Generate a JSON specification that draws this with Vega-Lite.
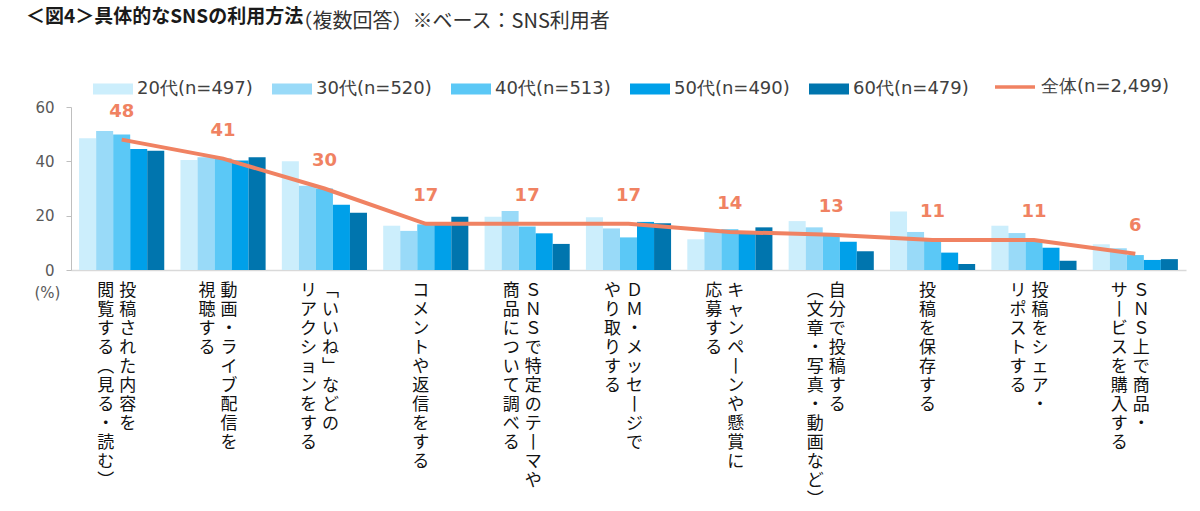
{
  "$schema": "https://vega.github.io/schema/vega-lite/v6.json",
  "autosize": {"type": "none"},
  "width": 1115,
  "height": 163,
  "padding": {"left": 71, "top": 107, "right": 14, "bottom": 241},
  "background": "#ffffff",
  "config": {"view": {"stroke": null}},
  "title": {
    "text": "＜図4＞具体的なSNSの利用方法",
    "anchor": "start",
    "frame": "group",
    "dx": -45,
    "dy": 50,
    "offset": 34,
    "font": "Noto Sans CJK JP",
    "fontSize": 19,
    "fontWeight": "bold",
    "color": "#1a1a1a"
  },
  "datasets": {
    "bars": [
      {"item": "投稿された内容を閲覧する（見る・読む）", "age": "20代(n=497)", "value": 48.5},
      {"item": "投稿された内容を閲覧する（見る・読む）", "age": "30代(n=520)", "value": 51.2},
      {"item": "投稿された内容を閲覧する（見る・読む）", "age": "40代(n=513)", "value": 49.9},
      {"item": "投稿された内容を閲覧する（見る・読む）", "age": "50代(n=490)", "value": 44.5},
      {"item": "投稿された内容を閲覧する（見る・読む）", "age": "60代(n=479)", "value": 43.9},
      {"item": "動画・ライブ配信を視聴する", "age": "20代(n=497)", "value": 40.5},
      {"item": "動画・ライブ配信を視聴する", "age": "30代(n=520)", "value": 41.5},
      {"item": "動画・ライブ配信を視聴する", "age": "40代(n=513)", "value": 41.0},
      {"item": "動画・ライブ配信を視聴する", "age": "50代(n=490)", "value": 40.3},
      {"item": "動画・ライブ配信を視聴する", "age": "60代(n=479)", "value": 41.5},
      {"item": "「いいね」などのリアクションをする", "age": "20代(n=497)", "value": 40.0},
      {"item": "「いいね」などのリアクションをする", "age": "30代(n=520)", "value": 31.0},
      {"item": "「いいね」などのリアクションをする", "age": "40代(n=513)", "value": 30.0},
      {"item": "「いいね」などのリアクションをする", "age": "50代(n=490)", "value": 24.0},
      {"item": "「いいね」などのリアクションをする", "age": "60代(n=479)", "value": 21.1},
      {"item": "コメントや返信をする", "age": "20代(n=497)", "value": 16.3},
      {"item": "コメントや返信をする", "age": "30代(n=520)", "value": 14.4},
      {"item": "コメントや返信をする", "age": "40代(n=513)", "value": 16.8},
      {"item": "コメントや返信をする", "age": "50代(n=490)", "value": 17.2},
      {"item": "コメントや返信をする", "age": "60代(n=479)", "value": 19.6},
      {"item": "SNSで特定のテーマや商品について調べる", "age": "20代(n=497)", "value": 19.6},
      {"item": "SNSで特定のテーマや商品について調べる", "age": "30代(n=520)", "value": 21.7},
      {"item": "SNSで特定のテーマや商品について調べる", "age": "40代(n=513)", "value": 16.0},
      {"item": "SNSで特定のテーマや商品について調べる", "age": "50代(n=490)", "value": 13.5},
      {"item": "SNSで特定のテーマや商品について調べる", "age": "60代(n=479)", "value": 9.6},
      {"item": "DM・メッセージでやり取りする", "age": "20代(n=497)", "value": 19.4},
      {"item": "DM・メッセージでやり取りする", "age": "30代(n=520)", "value": 15.3},
      {"item": "DM・メッセージでやり取りする", "age": "40代(n=513)", "value": 12.0},
      {"item": "DM・メッセージでやり取りする", "age": "50代(n=490)", "value": 17.7},
      {"item": "DM・メッセージでやり取りする", "age": "60代(n=479)", "value": 17.2},
      {"item": "キャンペーンや懸賞に応募する", "age": "20代(n=497)", "value": 11.3},
      {"item": "キャンペーンや懸賞に応募する", "age": "30代(n=520)", "value": 14.1},
      {"item": "キャンペーンや懸賞に応募する", "age": "40代(n=513)", "value": 15.0},
      {"item": "キャンペーンや懸賞に応募する", "age": "50代(n=490)", "value": 13.5},
      {"item": "キャンペーンや懸賞に応募する", "age": "60代(n=479)", "value": 15.7},
      {"item": "自分で投稿する（文章・写真・動画など）", "age": "20代(n=497)", "value": 18.0},
      {"item": "自分で投稿する（文章・写真・動画など）", "age": "30代(n=520)", "value": 15.7},
      {"item": "自分で投稿する（文章・写真・動画など）", "age": "40代(n=513)", "value": 13.5},
      {"item": "自分で投稿する（文章・写真・動画など）", "age": "50代(n=490)", "value": 10.4},
      {"item": "自分で投稿する（文章・写真・動画など）", "age": "60代(n=479)", "value": 6.9},
      {"item": "投稿を保存する", "age": "20代(n=497)", "value": 21.5},
      {"item": "投稿を保存する", "age": "30代(n=520)", "value": 14.0},
      {"item": "投稿を保存する", "age": "40代(n=513)", "value": 11.3},
      {"item": "投稿を保存する", "age": "50代(n=490)", "value": 6.4},
      {"item": "投稿を保存する", "age": "60代(n=479)", "value": 2.2},
      {"item": "投稿をシェア・リポストする", "age": "20代(n=497)", "value": 16.3},
      {"item": "投稿をシェア・リポストする", "age": "30代(n=520)", "value": 13.6},
      {"item": "投稿をシェア・リポストする", "age": "40代(n=513)", "value": 10.5},
      {"item": "投稿をシェア・リポストする", "age": "50代(n=490)", "value": 8.2},
      {"item": "投稿をシェア・リポストする", "age": "60代(n=479)", "value": 3.4},
      {"item": "SNS上で商品・サービスを購入する", "age": "20代(n=497)", "value": 9.5},
      {"item": "SNS上で商品・サービスを購入する", "age": "30代(n=520)", "value": 8.0},
      {"item": "SNS上で商品・サービスを購入する", "age": "40代(n=513)", "value": 5.5},
      {"item": "SNS上で商品・サービスを購入する", "age": "50代(n=490)", "value": 3.7},
      {"item": "SNS上で商品・サービスを購入する", "age": "60代(n=479)", "value": 4.0}
    ],
    "total": [
      {"item": "投稿された内容を閲覧する（見る・読む）", "value": 48, "r": "投稿された内容を", "l": "閲覧する︵見る・読む︶", "s": ""},
      {"item": "動画・ライブ配信を視聴する", "value": 41, "r": "動画・ライブ配信を", "l": "視聴する", "s": ""},
      {"item": "「いいね」などのリアクションをする", "value": 30, "r": "﹁いいね﹂などの", "l": "リアクションをする", "s": ""},
      {"item": "コメントや返信をする", "value": 17, "r": "", "l": "", "s": "コメントや返信をする"},
      {"item": "SNSで特定のテーマや商品について調べる", "value": 17, "r": "ＳＮＳで特定のテ丨マや", "l": "商品について調べる", "s": ""},
      {"item": "DM・メッセージでやり取りする", "value": 17, "r": "ＤＭ・メッセ丨ジで", "l": "やり取りする", "s": ""},
      {"item": "キャンペーンや懸賞に応募する", "value": 14, "r": "キャンペ丨ンや懸賞に", "l": "応募する", "s": ""},
      {"item": "自分で投稿する（文章・写真・動画など）", "value": 13, "r": "自分で投稿する", "l": "︵文章・写真・動画など︶", "s": ""},
      {"item": "投稿を保存する", "value": 11, "r": "", "l": "", "s": "投稿を保存する"},
      {"item": "投稿をシェア・リポストする", "value": 11, "r": "投稿をシェア・", "l": "リポストする", "s": ""},
      {"item": "SNS上で商品・サービスを購入する", "value": 6, "r": "ＳＮＳ上で商品・", "l": "サ丨ビスを購入する", "s": ""}
    ]
  },
  "encoding": {
    "x": {
      "field": "item",
      "type": "nominal",
      "sort": null,
      "title": "（複数回答）※ベース：SNS利用者",
      "scale": {"paddingInner": 0.16, "paddingOuter": 0.08},
      "axis": {
        "labels": false,
        "ticks": false,
        "domainColor": "#d9d9d9",
        "domainWidth": 1.5,
        "titleX": 221,
        "titleY": -249,
        "titleAlign": "left",
        "titleBaseline": "middle",
        "titleFont": "Noto Sans CJK JP",
        "titleFontSize": 20,
        "titleFontWeight": "normal",
        "titleColor": "#333333"
      }
    }
  },
  "layer": [
    {
      "data": {"name": "bars"},
      "mark": {"type": "bar"},
      "encoding": {
        "xOffset": {"field": "age", "type": "nominal", "sort": ["20代(n=497)", "30代(n=520)", "40代(n=513)", "50代(n=490)", "60代(n=479)"], "scale": {"paddingInner": 0}},
        "y": {
          "field": "value",
          "type": "quantitative",
          "scale": {"domain": [0, 60]},
          "axis": {
            "values": [0, 20, 40, 60],
            "grid": false,
            "domainColor": "#bfbfbf",
            "tickColor": "#bfbfbf",
            "tickSize": 5,
            "labelFont": "DejaVu Sans",
            "labelFontSize": 15,
            "labelColor": "#595959",
            "labelPadding": 12,
            "title": "(%)",
            "titleAngle": 0,
            "titleX": -24,
            "titleY": 185,
            "titleAlign": "center",
            "titleBaseline": "middle",
            "titleFont": "DejaVu Sans",
            "titleFontSize": 15,
            "titleFontWeight": "normal",
            "titleColor": "#595959"
          }
        },
        "color": {
          "field": "age",
          "type": "nominal",
          "scale": {
            "domain": ["20代(n=497)", "30代(n=520)", "40代(n=513)", "50代(n=490)", "60代(n=479)"],
            "range": ["#CCEEFC", "#99DAF8", "#5BC8F6", "#00A0E9", "#0075AE"]
          },
          "legend": {
            "orient": "none",
            "legendX": 22,
            "legendY": -38,
            "direction": "horizontal",
            "title": null,
            "padding": 0,
            "symbolType": "M-1,-0.27H1V0.27H-1Z",
            "symbolSize": 1600,
            "symbolStrokeWidth": 0,
            "symbolOpacity": 1,
            "labelFont": "DejaVu Sans",
            "labelFontSize": 18,
            "labelColor": "#404040",
            "labelOffset": 4,
            "labelLimit": 300,
            "columnPadding": 19
          }
        }
      }
    },
    {
      "data": {"name": "total"},
      "mark": {"type": "line", "strokeWidth": 4},
      "encoding": {
        "y": {"field": "value", "type": "quantitative"},
        "stroke": {
          "datum": "全体(n=2,499)",
          "scale": {"range": ["#F08262"]},
          "legend": {
            "orient": "none",
            "legendX": 922,
            "legendY": -42,
            "title": null,
            "padding": 0,
            "symbolType": "stroke",
            "symbolSize": 1600,
            "symbolStrokeWidth": 3.5,
            "labelFont": "DejaVu Sans",
            "labelFontSize": 18,
            "labelColor": "#404040",
            "labelOffset": 4,
            "labelLimit": 300
          }
        }
      }
    },
    {
      "data": {"name": "total"},
      "mark": {"type": "text", "dy": -28, "baseline": "middle", "align": "center", "font": "DejaVu Sans", "fontSize": 18, "fontWeight": "bold", "color": "#F08262"},
      "encoding": {
        "y": {"field": "value", "type": "quantitative"},
        "text": {"field": "value", "type": "quantitative"}
      }
    },
    {
      "data": {"name": "total"},
      "transform": [{"filter": "datum.r != ''"}, {"calculate": "split(datum.r, '')", "as": "rc"}],
      "mark": {"type": "text", "dx": 6, "dy": 13, "baseline": "top", "align": "center", "font": "Noto Sans CJK JP", "fontSize": 17, "lineHeight": 19, "color": "#111111"},
      "encoding": {
        "y": {"datum": 0, "type": "quantitative"},
        "text": {"field": "rc"}
      }
    },
    {
      "data": {"name": "total"},
      "transform": [{"filter": "datum.l != ''"}, {"calculate": "split(datum.l, '')", "as": "lc"}],
      "mark": {"type": "text", "dx": -16, "dy": 13, "baseline": "top", "align": "center", "font": "Noto Sans CJK JP", "fontSize": 17, "lineHeight": 19, "color": "#111111"},
      "encoding": {
        "y": {"datum": 0, "type": "quantitative"},
        "text": {"field": "lc"}
      }
    },
    {
      "data": {"name": "total"},
      "transform": [{"filter": "datum.s != ''"}, {"calculate": "split(datum.s, '')", "as": "sc"}],
      "mark": {"type": "text", "dx": -5, "dy": 13, "baseline": "top", "align": "center", "font": "Noto Sans CJK JP", "fontSize": 17, "lineHeight": 19, "color": "#111111"},
      "encoding": {
        "y": {"datum": 0, "type": "quantitative"},
        "text": {"field": "sc"}
      }
    }
  ]
}
